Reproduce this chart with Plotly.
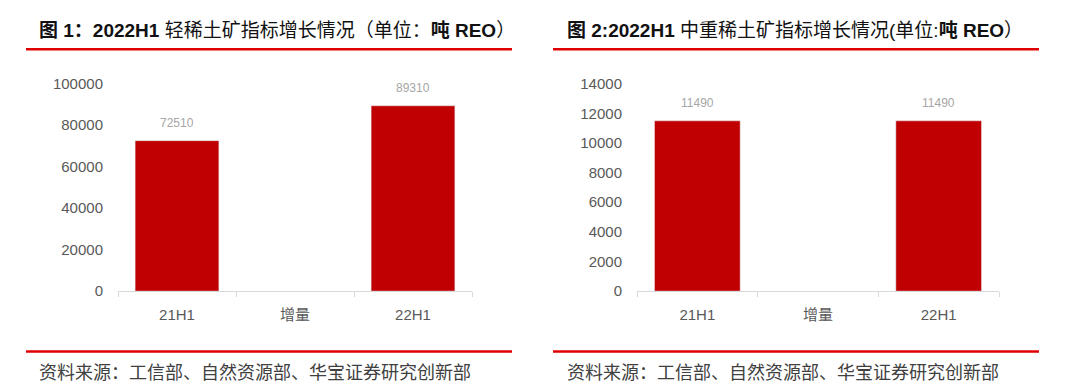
import plotly.graph_objects as go

categories = ["21H1", "增量", "22H1"]
light_values = [72510, None, 89310]
heavy_values = [11490, None, 11490]
light_ticks = [0, 20000, 40000, 60000, 80000, 100000]
heavy_ticks = [0, 2000, 4000, 6000, 8000, 10000, 12000, 14000]

title1 = "<b>图 1：2022H1</b> 轻稀土矿指标增长情况（单位：<b>吨 REO</b>）"
title2 = "<b>图 2:2022H1</b> 中重稀土矿指标增长情况(单位:<b>吨 REO</b>）"
source = "资料来源：工信部、自然资源部、华宝证券研究创新部"

W, H = 1080, 390
BAR = "#C00000"
RED = "#E00000"
FONT = "Liberation Sans, Noto Sans CJK SC, sans-serif"
CJK = "Noto Sans CJK SC, sans-serif"


def px(x):
    return x / W


def py(y):
    return 1 - y / H


fig = go.Figure()
fig.add_trace(go.Bar(x=categories, y=light_values, marker_color=BAR,
                     xaxis="x", yaxis="y", showlegend=False, hoverinfo="skip"))
fig.add_trace(go.Bar(x=categories, y=heavy_values, marker_color=BAR,
                     xaxis="x2", yaxis="y2", showlegend=False, hoverinfo="skip"))

ydom = [py(295), py(78)]
xcommon = dict(
    type="category", showgrid=False, showline=True, linecolor="#D9D9D9", linewidth=1,
    ticks="outside", tickson="boundaries", ticklen=5, tickcolor="#D9D9D9",
    tickfont=dict(size=15, color="#595959", family=FONT), ticklabelstandoff=10,
    range=[-0.5, 2.5], fixedrange=True,
)
ycommon = dict(
    showgrid=False, showline=False, zeroline=False, ticks="", tickformat="d",
    tickfont=dict(size=15, color="#595959", family=FONT), ticklabelstandoff=14,
    domain=ydom, fixedrange=True,
)

fig.update_layout(
    width=W, height=H,
    margin=dict(l=0, r=0, t=0, b=0),
    paper_bgcolor="white", plot_bgcolor="white",
    bargap=0.29,
    xaxis=dict(domain=[px(118), px(472)], anchor="y", **xcommon),
    yaxis=dict(anchor="x", range=[0, 100000], tickvals=light_ticks, **ycommon),
    xaxis2=dict(domain=[px(637), px(999)], anchor="y2", **xcommon),
    yaxis2=dict(anchor="x2", range=[0, 14000], tickvals=heavy_ticks, **ycommon),
)

ann = []
# data labels, placed through the axes from the data arrays
for xa, ya, vals in [("x", "y", light_values), ("x2", "y2", heavy_values)]:
    for c, v in zip(categories, vals):
        if v is None:
            continue
        ann.append(dict(x=c, y=v, xref=xa, yref=ya, text=str(v), showarrow=False,
                        yanchor="bottom", yshift=9,
                        font=dict(size=12, color="#A6A6A6", family=FONT)))
for x0, t in [(37, title1), (565, title2)]:
    ann.append(dict(x=px(x0), y=py(23), xref="paper", yref="paper", text=t,
                    xanchor="left", yanchor="middle", showarrow=False,
                    font=dict(size=19, color="#111111", family=FONT)))
for x0 in [37, 565]:
    ann.append(dict(x=px(x0), y=py(378), xref="paper", yref="paper", text=source,
                    xanchor="left", yanchor="middle", showarrow=False,
                    font=dict(size=18, color="#404040", family=CJK)))
fig.update_layout(annotations=ann)

shapes = []
for (x0, x1) in [(26, 512), (553, 1039)]:
    for yy in [42, 358]:
        shapes.append(dict(type="line", xref="paper", yref="paper",
                           x0=px(x0), x1=px(x1), y0=py(yy), y1=py(yy),
                           line=dict(color=RED, width=2.5)))
fig.update_layout(shapes=shapes)

post = (
    "var d=document.getElementById('{plot_id}');"
    "d.style.position='fixed';d.style.top='0';d.style.left='0';"
    "document.documentElement.style.margin='0';document.documentElement.style.padding='0';"
    "document.body.style.margin='0';document.body.style.padding='0';"
    "document.body.style.overflow='hidden';"
)
fig.write_html("out.html", config={"displayModeBar": False}, post_script=post)
